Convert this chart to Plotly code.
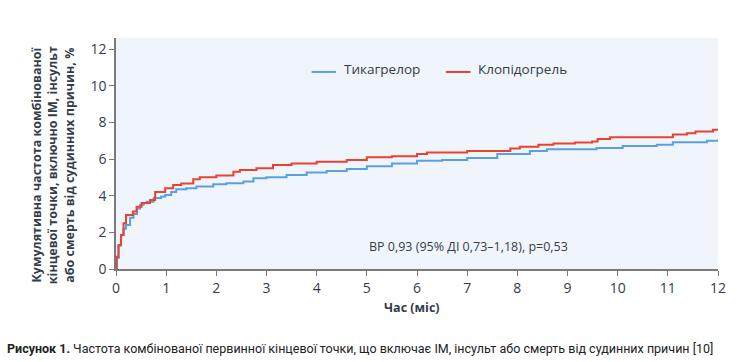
import plotly.graph_objects as go

# Data (months, cumulative %)
ticagrelor_t = [0, 0.02, 0.05, 0.1, 0.15, 0.2, 0.28, 0.35, 0.42, 0.48, 0.55, 0.61, 0.75, 0.9, 0.98,
                1.1, 1.2, 1.4, 1.6, 1.94, 2.2, 2.54, 2.74, 3.0, 3.4, 3.8, 4.2, 4.6, 5.0, 5.5, 6.0,
                6.5, 7.0, 7.6, 8.25, 8.59, 9.58, 10.1, 10.78, 11.1, 11.78, 12]
ticagrelor_v = [0, 0.6, 1.3, 1.85, 2.2, 2.4, 2.8, 3.0, 3.3, 3.5, 3.6, 3.67, 3.87, 3.95, 4.04,
                4.2, 4.35, 4.4, 4.5, 4.62, 4.68, 4.77, 4.95, 5.0, 5.13, 5.27, 5.35, 5.45, 5.6, 5.75, 5.9,
                5.95, 6.05, 6.27, 6.44, 6.53, 6.6, 6.71, 6.78, 6.91, 6.99, 6.99]

clopidogrel_t = [0, 0.01, 0.05, 0.1, 0.15, 0.2, 0.34, 0.41, 0.51, 0.68, 0.78, 0.98, 1.14, 1.3, 1.54,
                 1.67, 2.0, 2.34, 2.47, 2.8, 3.13, 3.5, 4.0, 4.6, 5.0, 5.5, 6.0, 6.2, 7.0, 7.86, 8.05,
                 8.42, 8.72, 9.15, 9.49, 9.6, 9.85, 11.1, 11.38, 11.55, 11.9, 12]
clopidogrel_v = [0, 0.67, 1.3, 1.85, 2.5, 2.95, 3.13, 3.4, 3.6, 3.76, 4.2, 4.4, 4.58, 4.67, 4.9,
                 5.0, 5.1, 5.3, 5.4, 5.5, 5.67, 5.75, 5.85, 5.95, 6.1, 6.15, 6.27, 6.35, 6.43, 6.57, 6.67,
                 6.78, 6.84, 6.9, 6.95, 7.09, 7.18, 7.33, 7.4, 7.5, 7.6, 7.6]

x_ticks = list(range(0, 13))
y_ticks = [0, 2, 4, 6, 8, 10, 12]

series_names = ["Тикагрелор", "Клопідогрель"]
BLUE = "#5aa0e0"
RED = "#ea4230"
FONT = "Open Sans"
TXT = "#333d4a"

fig = go.Figure()
fig.add_trace(go.Scatter(x=ticagrelor_t, y=ticagrelor_v, mode="lines", line_shape="hv",
                         name=series_names[0], line=dict(color=BLUE, width=2)))
fig.add_trace(go.Scatter(x=clopidogrel_t, y=clopidogrel_v, mode="lines", line_shape="hv",
                         name=series_names[1], line=dict(color=RED, width=2)))

axis_common = dict(showline=True, linecolor="#7a7a7a", linewidth=1.5, ticks="outside",
                   ticklen=5, tickcolor="#7a7a7a", tickwidth=1.2, showgrid=False, zeroline=False,
                   tickfont=dict(family=FONT, size=14, color=TXT))

fig.update_xaxes(range=[0, 12], tickvals=x_ticks, **axis_common)
fig.update_yaxes(range=[0, 12.6], tickvals=y_ticks, **axis_common)

# Manual legend
legend_items = [(0.325, 0.3654, 0.375, BLUE), (0.548, 0.589, 0.5975, RED)]
for name, (x0, x1, xt, col) in zip(series_names, legend_items):
    fig.add_shape(type="line", xref="paper", yref="paper", x0=x0, x1=x1, y0=0.853, y1=0.853,
                  line=dict(color=col, width=2))
    fig.add_annotation(text=name, xref="paper", yref="paper", x=xt, y=0.866, xanchor="left",
                       yanchor="middle", showarrow=False, font=dict(family=FONT, size=13.5, color=TXT))

fig.add_annotation(text="ВР 0,93 (95% ДІ 0,73–1,18), p=0,53", xref="paper", yref="paper",
                   x=0.4164, y=0.0965, xanchor="left", yanchor="middle", showarrow=False,
                   font=dict(family=FONT, size=12.5, color=TXT))

fig.add_annotation(text="<b>Час (міс)</b>", xref="paper", yref="paper", x=0.491, y=-0.165,
                   xanchor="center", yanchor="middle", showarrow=False,
                   font=dict(family=FONT, size=12.5, color=TXT))

fig.add_annotation(text="<b>Кумулятивна частота комбінованої<br>кінцевої точки, включно ІМ, інсульт<br>"
                        "або смерть від судинних причин, %</b>",
                   xref="paper", yref="paper", x=-0.1045, y=0.45, xanchor="center", yanchor="middle",
                   textangle=-90, showarrow=False, font=dict(family=FONT, size=12.5, color=TXT))

fig.add_annotation(text="<b>Рисунок 1.</b> Частота комбінованої первинної кінцевої точки, що включає ІМ, "
                        "інсульт або смерть від судинних причин [10]",
                   xref="paper", yref="paper", x=-0.1844, y=-0.346, xanchor="left", yanchor="middle",
                   showarrow=False, font=dict(family="Roboto", size=12.5, color="#222"))

fig.update_layout(width=750, height=362, margin=dict(l=116, r=32, t=38, b=93),
                  plot_bgcolor="#f0f5fc", paper_bgcolor="white", showlegend=False,
                  font=dict(family=FONT, color=TXT))

fig.write_html("out.html", config={"displayModeBar": False},
               post_script="document.body.style.margin='0';")
